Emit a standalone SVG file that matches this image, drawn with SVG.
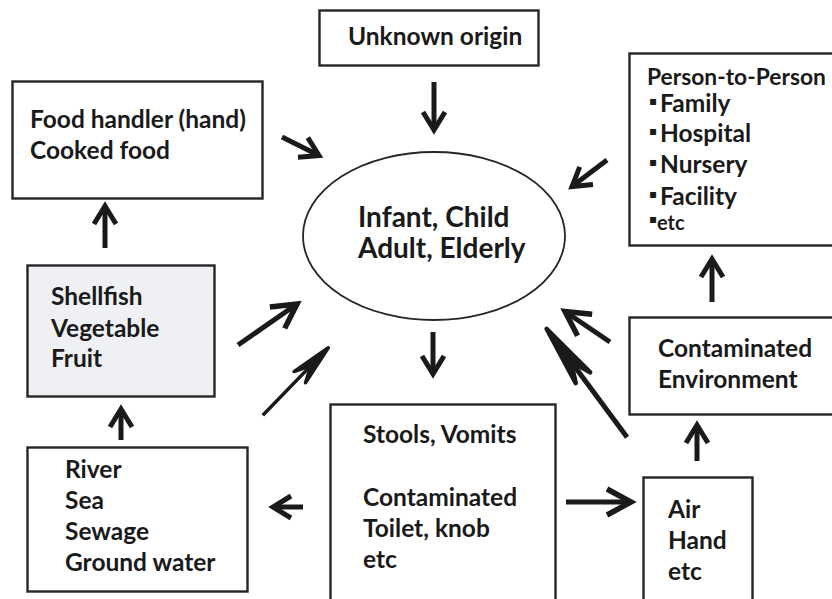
<svg xmlns="http://www.w3.org/2000/svg" width="832" height="599" viewBox="0 0 832 599">
<style>
  .box { fill: #ffffff; stroke: #262626; stroke-width: 2.4; }
  .gray { fill: #eef0f3; }
  .t { font-family: Lato, "Open Sans", "Liberation Sans", sans-serif; font-weight: 700; font-size: 24.5px; fill: #1a1a1a; }
  .big { font-size: 28px; }
  .mid { font-size: 22.8px; }
  .small { font-size: 20px; }
  .bul { font-family: "DejaVu Sans", sans-serif; font-size: 12px; font-weight: 700; }
  .shaft { stroke: #1a1a1a; stroke-width: 5; fill: none; }
  .stealth { fill: #1a1a1a; stroke: #1a1a1a; stroke-linejoin: round; }
</style>
<defs>
  <marker id="chev" markerUnits="userSpaceOnUse" orient="auto" refX="0" refY="0" markerWidth="40" markerHeight="40" viewBox="-30 -20 40 40" overflow="visible">
    <path d="M -18 -11 L 0 0 L -18 11" fill="none" stroke="#1a1a1a" stroke-width="5" stroke-linejoin="miter" stroke-miterlimit="10"/>
  </marker>
  <marker id="chevBig" markerUnits="userSpaceOnUse" orient="auto" refX="0" refY="0" markerWidth="50" markerHeight="50" viewBox="-40 -25 50 50" overflow="visible">
    <path d="M -24 -13 L 0 0 L -24 13" fill="none" stroke="#1a1a1a" stroke-width="5.5" stroke-linejoin="miter" stroke-miterlimit="10"/>
  </marker>
</defs>

<g id="unknown-origin">
  <rect class="box" x="319.5" y="10.5" width="219" height="55"/>
  <text class="t" x="348" y="45">Unknown origin</text>
</g>

<g id="food-handler">
  <rect class="box" x="12.5" y="81.5" width="250" height="117"/>
  <text class="t" x="30" y="128">Food handler (hand)</text>
  <text class="t" x="30" y="159">Cooked food</text>
</g>

<g id="hosts">
  <ellipse cx="434" cy="236" rx="131" ry="84" fill="#ffffff" stroke="#262626" stroke-width="1.8"/>
  <text class="t big" x="358" y="227">Infant, Child</text>
  <text class="t big" x="358" y="258">Adult, Elderly</text>
</g>

<g id="person-to-person">
  <rect class="box" x="629.5" y="53.5" width="220" height="192"/>
  <text class="t mid" x="647" y="85">Person-to-Person</text>
  <text class="t" x="649" y="112"><tspan class="bul" dy="-7">▪</tspan><tspan x="660" dy="7">Family</tspan></text>
  <text class="t" x="649" y="142"><tspan class="bul" dy="-7">▪</tspan><tspan x="660" dy="7">Hospital</tspan></text>
  <text class="t" x="649" y="173"><tspan class="bul" dy="-7">▪</tspan><tspan x="660" dy="7">Nursery</tspan></text>
  <text class="t" x="649" y="205"><tspan class="bul" dy="-7">▪</tspan><tspan x="660" dy="7">Facility</tspan></text>
  <text class="t small" x="649" y="230"><tspan class="bul" dy="-7">▪</tspan><tspan x="657" dy="7">etc</tspan></text>
</g>

<g id="shellfish">
  <rect class="box gray" x="27.5" y="265.5" width="187" height="131"/>
  <text class="t" x="51" y="305">Shellfish</text>
  <text class="t" x="51" y="337">Vegetable</text>
  <text class="t" x="51" y="367">Fruit</text>
</g>

<g id="water">
  <rect class="box" x="27.5" y="447.5" width="220" height="144"/>
  <text class="t" x="65" y="478">River</text>
  <text class="t" x="65" y="509">Sea</text>
  <text class="t" x="65" y="540">Sewage</text>
  <text class="t" x="65" y="571">Ground water</text>
</g>

<g id="stools">
  <rect class="box" x="330.5" y="404.5" width="225" height="220"/>
  <text class="t" x="363" y="443">Stools, Vomits</text>
  <text class="t" x="363" y="506">Contaminated</text>
  <text class="t" x="363" y="537">Toilet, knob</text>
  <text class="t" x="363" y="568">etc</text>
</g>

<g id="air-hand">
  <rect class="box" x="643.5" y="477.5" width="109" height="150"/>
  <text class="t" x="668" y="518">Air</text>
  <text class="t" x="668" y="549">Hand</text>
  <text class="t" x="668" y="580">etc</text>
</g>

<g id="contaminated-environment">
  <rect class="box" x="629.5" y="317.5" width="220" height="97"/>
  <text class="t" x="658" y="357">Contaminated</text>
  <text class="t" x="658" y="388">Environment</text>
</g>

<g id="connectors">
  <line class="shaft" x1="434" y1="82" x2="434" y2="130" marker-end="url(#chev)"/>
  <line class="shaft" x1="282" y1="137" x2="319" y2="155.5" marker-end="url(#chev)"/>
  <line class="shaft" x1="607" y1="160" x2="572" y2="186.5" marker-end="url(#chev)"/>
  <line class="shaft" x1="238" y1="345" x2="297" y2="304" marker-end="url(#chevBig)"/>
  <line class="shaft" x1="433" y1="332" x2="433" y2="374" marker-end="url(#chev)"/>
  <line class="shaft" x1="303" y1="507" x2="273" y2="507" marker-end="url(#chev)"/>
  <line class="shaft" x1="566" y1="502" x2="631" y2="502" marker-end="url(#chevBig)"/>
  <line class="shaft" x1="121" y1="440" x2="121" y2="409" marker-end="url(#chev)"/>
  <line class="shaft" x1="105" y1="248" x2="105" y2="206" marker-end="url(#chev)"/>
  <line class="shaft" x1="712" y1="302" x2="712" y2="259" marker-end="url(#chev)"/>
  <line class="shaft" x1="697" y1="461" x2="697" y2="425" marker-end="url(#chev)"/>
  <line class="shaft" x1="610" y1="342" x2="565" y2="311.5" marker-end="url(#chevBig)"/>
  <g transform="translate(329 347) rotate(-45.85)">
    <line x1="-95" y1="0" x2="-26" y2="0" stroke="#1a1a1a" stroke-width="3.5"/>
    <path class="stealth" stroke-width="3.5" d="M -1 0 L -42 -8 L -26 0 L -42 8 Z"/>
  </g>
  <g transform="translate(546 328) rotate(-126.6)">
    <line x1="-136" y1="0" x2="-40" y2="0" stroke="#1a1a1a" stroke-width="5"/>
    <path class="stealth" stroke-width="4.5" d="M -1 0 L -62 -9 L -42 0 L -62 9 Z"/>
  </g>
</g>
</svg>
